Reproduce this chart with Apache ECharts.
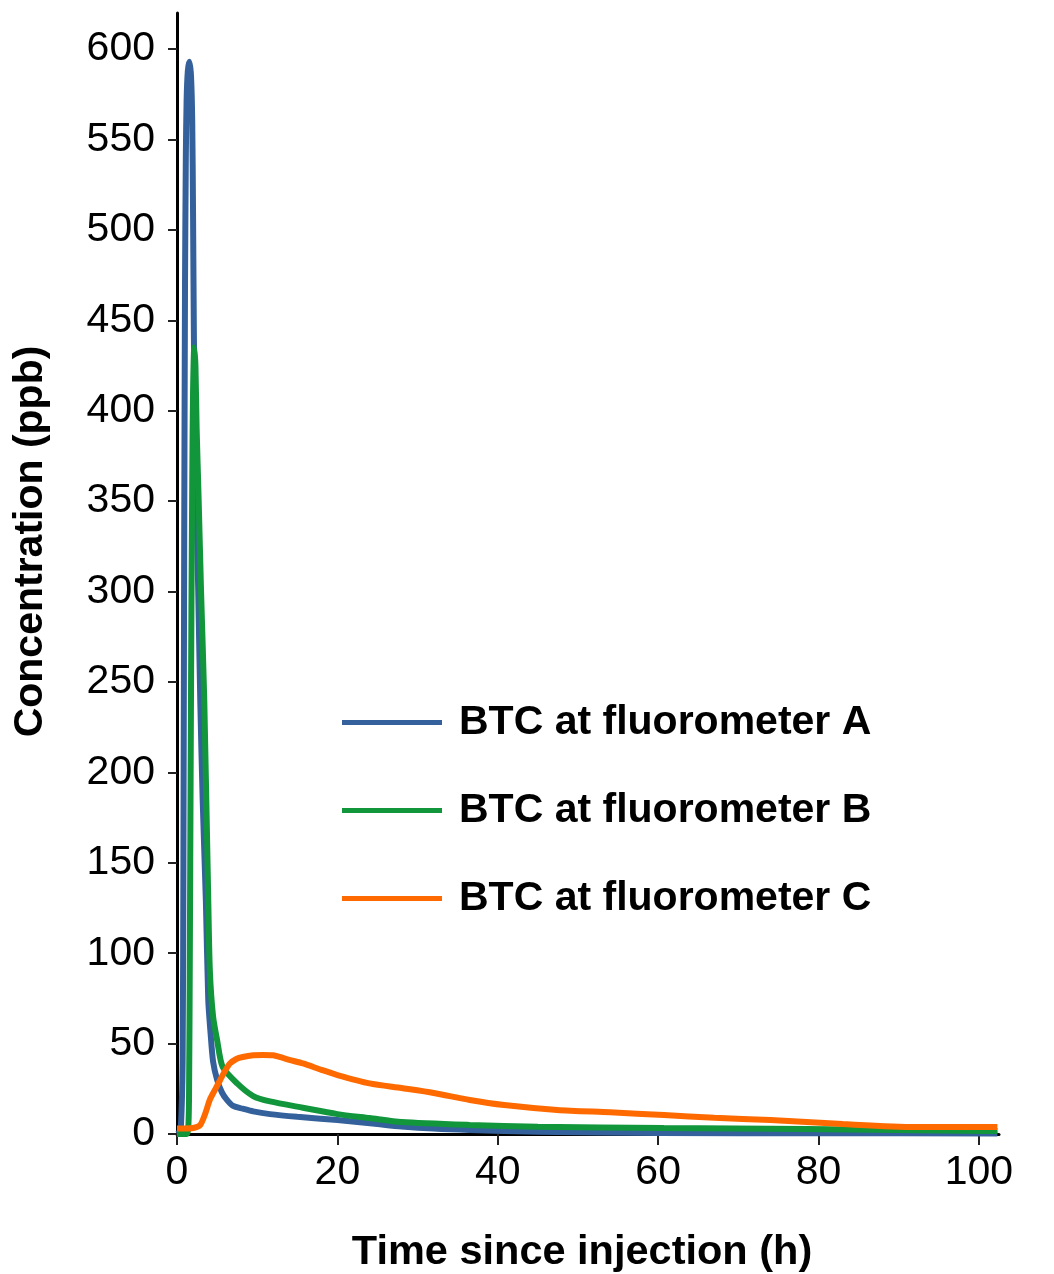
<!DOCTYPE html>
<html>
<head>
<meta charset="utf-8">
<script src="https://cdn.jsdelivr.net/npm/echarts@6/dist/echarts.min.js"></script>
<style>
html,body{margin:0;padding:0;background:#fff;}
#chart{width:1054px;height:1274px;}
</style>
</head>
<body>
<div id="chart"></div>
<script>
// Data
const seriesNames = ['BTC at fluorometer A', 'BTC at fluorometer B', 'BTC at fluorometer C'];

const timeA = [0, 0.3, 0.5, 0.7, 0.8, 0.9, 1.0, 1.1, 1.2, 1.35, 1.55, 1.75, 1.9, 2.0, 2.1, 2.25, 2.4, 2.65, 2.9, 3.2, 3.6, 3.9, 4.2, 4.5, 5.0, 5.6, 6.2, 7.0, 8.2, 9.5, 11.6, 15, 20, 25, 28, 32, 36.5, 45, 60, 80, 102.3];
const concA = [0, 1, 5, 40, 150, 330, 470, 540, 572, 588, 593, 585, 560, 510, 445, 378, 351, 300, 240, 185, 129, 74, 55, 40, 30, 23, 19, 15.5, 14, 12.5, 11, 9.5, 7.7, 5.5, 4.2, 3, 2.2, 1.2, 0.6, 0.4, 0.3];

const timeB = [0, 1.2, 1.4, 1.5, 1.6, 1.7, 1.8, 1.9, 2.0, 2.15, 2.3, 2.45, 2.7, 3.0, 3.4, 3.9, 4.1, 4.5, 5.0, 5.7, 7.5, 9.5, 11.6, 15.7, 20, 24, 28, 36.5, 45, 60.7, 78.5, 100.9, 102.3];
const concB = [0, 0, 3, 20, 100, 200, 290, 360, 410, 435, 425, 390, 351, 300, 240, 129, 90, 65, 52, 37, 28, 21, 18, 14.5, 11, 8.8, 6.6, 5, 4, 3.3, 2.8, 1.7, 1.6];

const timeC = [0, 1, 2, 2.9, 3.5, 4.1, 4.8, 5.4, 6.0, 6.6, 7.4, 8.2, 9.5, 10.7, 12, 12.8, 14, 15.7, 18, 20, 24, 28, 32, 36.5, 40.8, 47.4, 54, 60.7, 67, 74, 83, 92, 97, 102.3];
const concC = [3, 3, 3.3, 5, 11, 19, 25, 30, 35, 39, 41.5, 42.6, 43.5, 43.7, 43.5, 42.6, 41, 39, 35.5, 32.6, 28, 25.4, 22.7, 18.8, 16, 13.3, 12, 10.5, 9, 7.7, 5.5, 3.9, 3.9, 3.9];

const xTicks = [0, 20, 40, 60, 80, 100];
const yTicks = [0, 50, 100, 150, 200, 250, 300, 350, 400, 450, 500, 550, 600];

const colors = ['#34619b', '#12963c', '#ff6a00'];

function pairs(xs, ys) { return xs.map((x, i) => [x, ys[i]]); }

const chart = echarts.init(document.getElementById('chart'), null, {renderer: 'canvas'});
const font = '"Liberation Sans", Arial, sans-serif';

const option = {
  backgroundColor: '#ffffff',
  animation: false,
  color: colors,
  grid: {left: 177, right: 55, top: 13, bottom: 140, containLabel: false, outerBoundsMode: 'none'},
  legend: {
    orient: 'vertical',
    left: 337,
    top: 697,
    icon: 'rect',
    itemWidth: 100,
    itemHeight: 5,
    itemGap: 47,
    data: seriesNames,
    textStyle: {fontFamily: font, fontSize: 41, fontWeight: 'bold', color: '#000', lineHeight: 41, padding: [0, 0, 0, 12]}
  },
  xAxis: {
    type: 'value',
    min: 0,
    max: 102.5,
    name: 'Time since injection (h)',
    nameLocation: 'middle',
    nameGap: 98,
    nameTextStyle: {fontFamily: font, fontSize: 41.5, fontWeight: 'bold', color: '#000', padding: [0, 12, 0, 0]},
    axisLine: {show: true, onZero: false, lineStyle: {color: '#000', width: 3}},
    axisTick: {show: true, customValues: xTicks, length: 11, lineStyle: {color: '#222', width: 2}},
    axisLabel: {customValues: xTicks, fontFamily: font, fontSize: 41, color: '#000', margin: 18},
    splitLine: {show: false}
  },
  yAxis: {
    type: 'value',
    min: 0,
    max: 620,
    name: 'Concentration (ppb)',
    nameLocation: 'middle',
    nameGap: 126,
    nameRotate: 90,
    nameTextStyle: {fontFamily: font, fontSize: 41, fontWeight: 'bold', color: '#000', padding: [0, 0, 0, 64]},
    axisLine: {show: true, onZero: false, lineStyle: {color: '#000', width: 3}},
    axisTick: {show: true, customValues: yTicks, length: 9, lineStyle: {color: '#222', width: 2}},
    axisLabel: {customValues: yTicks, fontFamily: font, fontSize: 41, color: '#000', margin: 22},
    splitLine: {show: false}
  },
  series: [
    {name: seriesNames[0], type: 'line', data: pairs(timeA, concA), symbol: 'none', smooth: 0.25, lineStyle: {width: 6, color: colors[0]}, z: 3},
    {name: seriesNames[1], type: 'line', data: pairs(timeB, concB), symbol: 'none', smooth: 0.25, lineStyle: {width: 6, color: colors[1]}, z: 4},
    {name: seriesNames[2], type: 'line', data: pairs(timeC, concC), symbol: 'none', smooth: 0.25, lineStyle: {width: 6, color: colors[2]}, z: 5}
  ]
};
chart.setOption(option);
</script>
</body>
</html>
